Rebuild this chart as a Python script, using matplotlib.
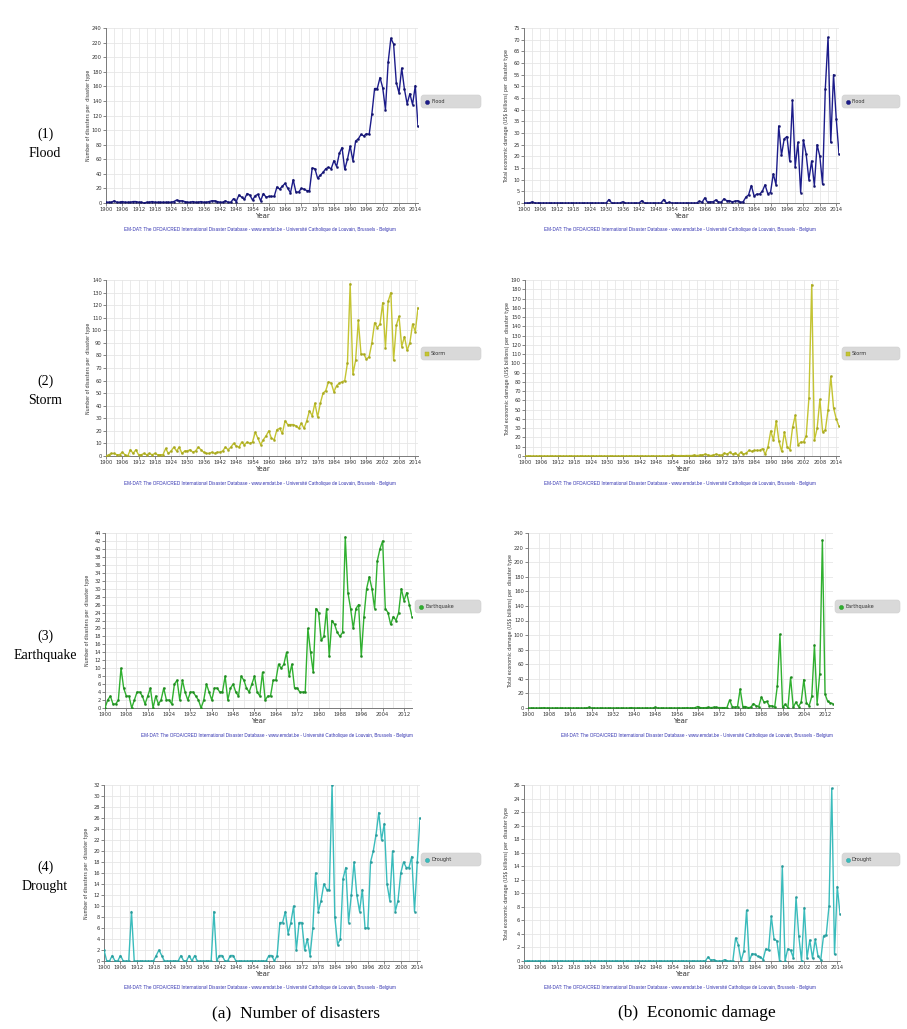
import matplotlib
matplotlib.use("Agg")
import matplotlib.pyplot as plt
from matplotlib.ticker import MultipleLocator, FixedLocator
from matplotlib.patches import FancyBboxPatch
from matplotlib.lines import Line2D

years = list(range(1900, 2016))

flood_count = [1, 1, 1, 3, 1, 1, 2, 1, 1, 1,
               2, 2, 1, 1, 0, 1, 1, 2, 1, 1,
               1, 1, 1, 1, 1, 2, 4, 3, 3, 2,
               1, 1, 2, 1, 1, 2, 1, 1, 2, 3,
               3, 2, 1, 1, 3, 1, 1, 6, 2, 11,
               8, 5, 13, 11, 4, 10, 12, 3, 13, 8,
               9, 9, 9, 22, 19, 23, 27, 20, 14, 32,
               15, 15, 20, 19, 17, 17, 48, 47, 34, 38,
               42, 47, 49, 47, 58, 50, 68, 76, 46, 60,
               78, 58, 85, 88, 94, 92, 95, 94, 122, 157,
               157, 172, 158, 128, 193, 226, 218, 165, 151, 185,
               156, 136, 150, 135, 161, 105]

flood_damage = [0, 0, 0, 0.5, 0, 0, 0, 0, 0, 0,
                0, 0, 0, 0, 0, 0, 0, 0, 0, 0,
                0, 0, 0, 0, 0, 0, 0, 0, 0, 0,
                0, 1.5, 0, 0, 0, 0, 0.5, 0, 0, 0,
                0, 0, 0, 1, 0, 0, 0, 0, 0, 0,
                0, 1.5, 0, 0.3, 0, 0, 0, 0, 0, 0,
                0, 0, 0, 0, 0.8, 0.3, 2.2, 0.3, 0.5, 0.5,
                1.3, 0.5, 0.3, 1.8, 1.0, 1.0, 0.5, 0.8, 1.0, 0.3,
                0.5, 2.5, 3.5, 7.5, 3.0, 3.8, 3.8, 5.0, 7.8, 4.0,
                4.5, 12.5, 7.8, 33, 20.5, 27.5, 28.5, 18, 44, 15.5,
                26, 4.5, 27, 21, 10, 18, 7.5, 25, 20, 8,
                49, 71, 26, 55, 36, 21]

storm_count = [0, 1, 2, 2, 1, 1, 3, 1, 0, 5,
               2, 5, 1, 1, 2, 1, 2, 1, 2, 1,
               1, 1, 6, 2, 4, 7, 4, 7, 2, 4,
               4, 5, 3, 4, 7, 5, 3, 2, 2, 3,
               2, 3, 3, 4, 7, 5, 7, 10, 8, 7,
               11, 9, 11, 10, 11, 19, 14, 9, 13, 16,
               20, 14, 13, 21, 22, 18, 28, 25, 25, 25,
               24, 22, 26, 22, 28, 36, 32, 42, 31, 42,
               50, 52, 59, 58, 51, 56, 58, 59, 60, 74,
               137, 65, 76, 108, 81, 81, 77, 79, 90, 106,
               102, 105, 122, 86, 123, 130, 76, 104, 111, 87,
               95, 84, 90, 105, 99, 118]

storm_damage = [0] * 50 + [
                0, 0, 0, 0, 1, 0.5, 0.3, 0.5, 0.3, 0.5,
                0.5, 0.5, 1, 0.5, 1, 1, 2, 1, 0.5, 1,
                2, 1, 1, 3, 2, 4, 2, 3, 1, 4,
                2, 3, 6, 5, 6, 6, 6, 8, 2, 10,
                27, 17, 38, 16, 5, 26, 10, 7, 31, 44,
                12, 15, 15, 22, 63, 185, 17, 30, 61, 26,
                28, 50, 86, 52, 40, 32]

quake_count = [0, 2, 3, 1, 1, 2, 10, 5, 3, 3,
               0, 2, 4, 4, 3, 1, 3, 5, 0, 3,
               1, 2, 5, 2, 2, 1, 6, 7, 2, 7,
               4, 2, 4, 4, 3, 2, 0, 2, 6, 4,
               2, 5, 5, 4, 4, 8, 2, 5, 6, 4,
               3, 8, 7, 5, 4, 6, 8, 4, 3, 9,
               2, 3, 3, 7, 7, 11, 10, 11, 14, 8,
               11, 5, 5, 4, 4, 4, 20, 14, 9, 25,
               24, 17, 18, 25, 13, 22, 21, 19, 18, 19,
               43, 29, 25, 20, 25, 26, 13, 23, 30, 33,
               30, 25, 37, 40, 42, 25, 24, 21, 23, 22,
               24, 30, 27, 29, 26, 23]

quake_damage = [0, 0, 0, 0, 0, 0, 0.5, 0, 0, 0,
                0, 0, 0, 0, 0, 0, 0, 0, 0, 0,
                0, 0, 0, 1, 0, 0, 0, 0, 0, 0,
                0, 0, 0, 0, 0, 0, 0, 0, 0, 0.5,
                0, 0, 0, 0, 0, 0, 0, 0, 1, 0,
                0, 0, 0, 0, 0, 0, 0, 0, 0, 0,
                0.5, 0, 0, 0.5, 2, 0.5, 0.3, 0.5, 1, 0.5,
                1, 1, 0.5, 0.5, 0.5, 0.5, 11, 2, 1, 2,
                26, 2, 2, 0.5, 1, 6, 3, 2, 15, 8,
                9, 3, 3, 1, 30, 101, 1, 5, 0.5, 42,
                1, 8, 2, 8, 39, 7, 3, 16, 86, 6,
                47, 230, 19, 9, 7, 6]

drought_count = [2, 0, 0, 1, 0, 0, 1, 0, 0, 0,
                 9, 0, 0, 0, 0, 0, 0, 0, 0, 1,
                 2, 1, 0, 0, 0, 0, 0, 0, 1, 0,
                 0, 1, 0, 1, 0, 0, 0, 0, 0, 0,
                 9, 0, 1, 1, 0, 0, 1, 1, 0, 0,
                 0, 0, 0, 0, 0, 0, 0, 0, 0, 0,
                 1, 1, 0, 1, 7, 7, 9, 5, 7, 10,
                 2, 7, 7, 2, 4, 1, 6, 16, 9, 11,
                 14, 13, 13, 32, 8, 3, 4, 15, 17, 7,
                 12, 18, 12, 9, 13, 6, 6, 18, 20, 23,
                 27, 22, 25, 14, 11, 20, 9, 11, 16, 18,
                 17, 17, 19, 9, 18, 26]

drought_damage = [0] * 60 + [
                  0, 0, 0, 0, 0, 0, 0, 0.6, 0.1, 0.2,
                  0, 0, 0, 0.2, 0, 0, 0, 3.4, 2.4, 0,
                  1.5, 7.5, 0, 1.1, 1.0, 0.7, 0.6, 0.2, 1.8, 1.6,
                  6.6, 3.2, 3.0, 0, 14, 0, 1.8, 1.6, 0.5, 9.4,
                  3.7, 0, 7.9, 0.5, 3.1, 0.4, 3.2, 0.7, 0.2, 3.7,
                  3.9, 8.1, 25.5, 1, 11, 7]

disaster_types = ["Flood", "Storm", "Earthquake", "Drought"]
row_labels = ["(1)\nFlood", "(2)\nStorm", "(3)\nEarthquake", "(4)\nDrought"]
col_captions = ["(a)  Number of disasters", "(b)  Economic damage"]
count_ylabel = "Number of disasters per  disaster type"
damage_ylabel = "Total economic damage (US\\$ billions) per  disaster type"
footnote = ("EM-DAT: The OFDA/CRED International Disaster Database - www.emdat.be - "
            "Universit\u00e9 Catholique de Louvain, Brussels - Belgium")

W, H = 907, 1029
fig = plt.figure(figsize=(W / 100, H / 100), dpi=100)
fig.patch.set_facecolor("white")


def frect(x0, y0, x1, y1):
    return [x0 / W, 1 - y1 / H, (x1 - x0) / W, (y1 - y0) / H]


colors = ["#1c1c8a", "#c4c432", "#30b030", "#3abcbc"]
marker_colors = ["#14146e", "#a8a820", "#208a20", "#2a9a9a"]
legend_markers = ["o", "s", "o", "o"]

series = [(flood_count, flood_damage), (storm_count, storm_damage),
          (quake_count, quake_damage), (drought_count, drought_damage)]

row_y = [(28, 203), (280, 456), (533, 708), (785, 961)]
ylims = [(240, 20, 75, 5), (140, 10, 190, 10), (44, 2, 240, 20), (32, 2, 26, 2)]
xsteps = [6, 6, 8, 6]
left_x = [(106, 418), (106, 418), (105, 412), (104, 420)]
right_x = [(524, 839), (525, 839), (528, 833), (524, 840)]
legend_boxes_left = [(421, 481), (421, 481), (415, 481), (421, 481)]
legend_boxes_right = [(842, 900), (842, 900), (835, 900), (842, 900)]
legend_y = [(95, 108), (347, 360), (600, 613), (853, 866)]
foot_y = [230, 483, 735, 987]
foot_x_left = [260, 260, 277, 260]
foot_x_right = [680, 680, 697, 680]
label_y = [144, 391, 646, 877]

for r in range(4):
    y0, y1 = row_y[r]
    for c in range(2):
        xs = left_x[r] if c == 0 else right_x[r]
        ax = fig.add_axes(frect(xs[0], y0, xs[1], y1))
        data = series[r][c]
        ytop = ylims[r][0] if c == 0 else ylims[r][2]
        ystep = ylims[r][1] if c == 0 else ylims[r][3]
        ax.plot(years, data, color=colors[r], lw=1.0, marker="o", markersize=1.5,
                markerfacecolor=marker_colors[r], markeredgecolor=marker_colors[r],
                markeredgewidth=0.3, zorder=3)
        ax.set_xlim(1900, 2015)
        ax.set_ylim(0, ytop)
        st = xsteps[r]
        ax.xaxis.set_major_locator(FixedLocator(list(range(1900, 2016, st))))
        ax.xaxis.set_minor_locator(FixedLocator(
            [1900 + k * st / 2 for k in range(int(115 * 2 / st) + 1)]))
        ax.yaxis.set_major_locator(MultipleLocator(ystep))
        ax.grid(which="both", axis="x", color="#e6e6e6", lw=0.6)
        ax.grid(which="major", axis="y", color="#e6e6e6", lw=0.6)
        ax.set_axisbelow(True)
        for s in ["top", "right"]:
            ax.spines[s].set_visible(False)
        for s in ["left", "bottom"]:
            ax.spines[s].set_color("#7a7a7a")
            ax.spines[s].set_linewidth(0.7)
        ax.tick_params(which="major", labelsize=3.7, length=2, width=0.5,
                       colors="#555555", pad=1, labelcolor="#333333")
        ax.tick_params(which="minor", length=0)
        ax.set_xlabel("Year", fontsize=5, color="#333333", labelpad=0.5)
        ax.set_ylabel(count_ylabel if c == 0 else damage_ylabel, fontsize=3.4,
                      color="#333333")
        ax.yaxis.set_label_coords(-15.0 / (xs[1] - xs[0]), 0.5)

        lx = legend_boxes_left[r] if c == 0 else legend_boxes_right[r]
        ly = legend_y[r]
        box = FancyBboxPatch((lx[0] / W, 1 - ly[1] / H),
                             (lx[1] - lx[0]) / W, (ly[1] - ly[0]) / H,
                             boxstyle="round,pad=0,rounding_size=0.003",
                             transform=fig.transFigure, facecolor="#d9d9d9",
                             edgecolor="#d0d0d0", lw=0.4)
        fig.add_artist(box)
        ym = 1 - (ly[0] + ly[1]) / 2 / H
        fig.add_artist(Line2D([(lx[0] + 6) / W], [ym], marker=legend_markers[r],
                              markersize=3, color=colors[r],
                              markeredgecolor=marker_colors[r], markeredgewidth=0.3,
                              transform=fig.transFigure))
        fig.text((lx[0] + 10) / W, ym, disaster_types[r], fontsize=3.6,
                 color="#333333", va="center", ha="left")

        fx = foot_x_left[r] if c == 0 else foot_x_right[r]
        fig.text(fx / W, 1 - foot_y[r] / H, footnote, fontsize=3.3,
                 color="#3030b0", ha="center", va="center",
                 family="Liberation Sans")

    fig.text(45 / W, 1 - label_y[r] / H, row_labels[r], fontsize=10,
             family="Liberation Serif", ha="center", va="center",
             linespacing=1.55)

fig.text(296 / W, 1 - 1013 / H, col_captions[0], fontsize=12.5,
         family="Liberation Serif", ha="center", va="center")
fig.text(697 / W, 1 - 1013 / H, col_captions[1], fontsize=12.5,
         family="Liberation Serif", ha="center", va="center")

fig.savefig("out.png", dpi=100, facecolor="white")
